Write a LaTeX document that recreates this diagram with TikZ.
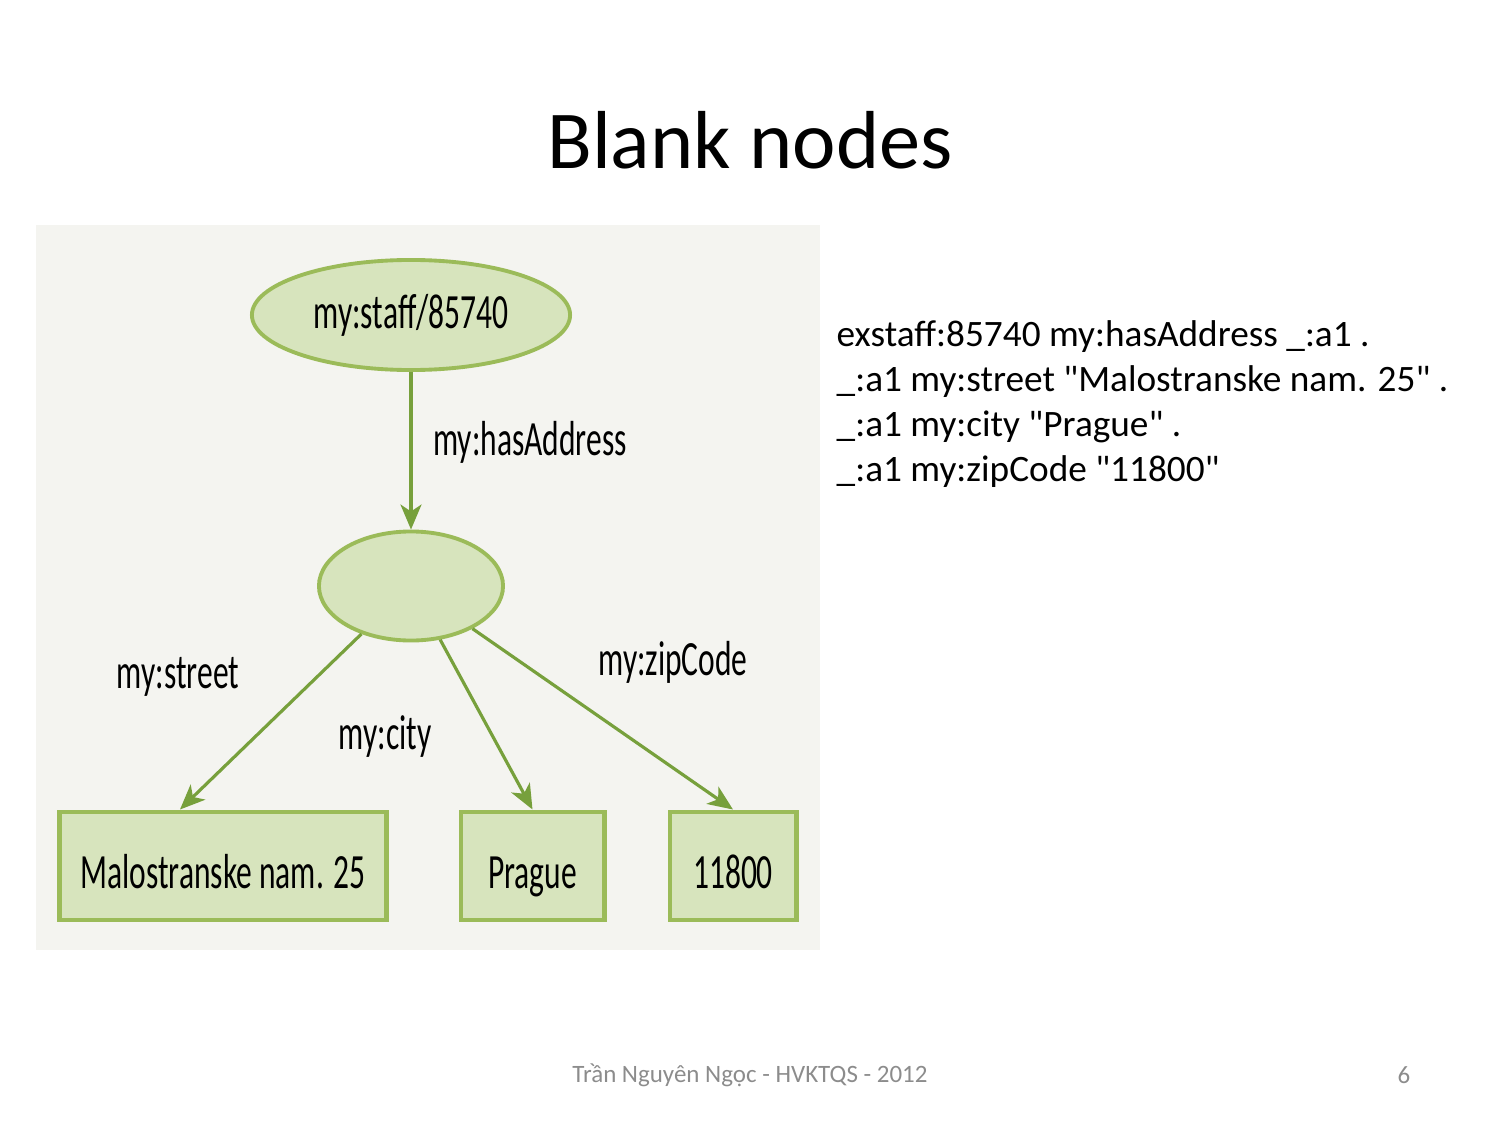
\documentclass[tikz,border=0pt]{standalone}
\usepackage{fontspec}
\setmainfont{Carlito}
\newfontfamily\narrowfont[FakeStretch=0.64]{Carlito}
\usetikzlibrary{shapes.geometric,arrows.meta,positioning}

\definecolor{nodefill}{HTML}{D7E4BD}
\definecolor{nodeline}{HTML}{9BBB59}
\definecolor{edgeline}{HTML}{77A03C}
\definecolor{panelbg}{HTML}{F4F4F0}
\definecolor{footgray}{HTML}{8C8C8C}

\begin{document}
\begin{tikzpicture}[
    x=0.01cm, y=-0.01cm,
    font=\narrowfont\fontsize{14}{16}\selectfont,
    >={Stealth[length=0.25cm,width=0.21cm,inset=0.07cm]},
    % --- node styles ---
    resource/.style = {ellipse, draw=nodeline, fill=nodefill,
                       line width=1.1pt, inner sep=0pt},
    literal/.style  = {rectangle, draw=nodeline, fill=nodefill,
                       line width=1.4pt, minimum height=1.08cm, inner sep=0pt,
                       text height=0.44cm, text depth=0cm},
    arrow/.style    = {->, draw=edgeline, line width=0.9pt},
    triple/.style   = {font=\fontsize{10.6}{12.8}\selectfont, anchor=base west,
                       inner sep=0pt},
    footer/.style   = {font=\fontsize{7.1}{8.5}\selectfont, text=footgray},
]
\useasboundingbox (0,0) rectangle (1499,1124);

%============ TITLE ============
\node (title) [font=\fontsize{23.4}{28}\selectfont] at (750,140) {Blank nodes};

%============ GRAPH PANEL ============
\fill[panelbg] (36,225) rectangle (820,950);

\node (staff) [resource, minimum width=3.18cm, minimum height=1.10cm]
  at (411,315) {\raisebox{-0.04cm}{my:staff/85740}};
\node (blank) [resource, minimum width=1.84cm, minimum height=1.09cm]
  at (411,586) {};

\node (street) [literal, minimum width=3.26cm] at (223,866) {Malostranske nam. 25};
\node (prague) [literal, minimum width=1.43cm] at (532.5,866) {Prague};
\node (zip)    [literal, minimum width=1.26cm] at (733,866) {11800};

\draw[arrow] (staff) -- (blank);
\draw[arrow] (blank) -- ([xshift=-0.43cm]street.north);
\draw[arrow] (blank) -- (prague.north);
\draw[arrow] (blank) -- (zip.north);

% edge labels
\node (lhas)    at (530,442) {my:hasAddress};
\node (lstreet) at (178,677) {my:street};
\node (lcity)   at (385,737) {my:city};
\node (lzip)    at (673,662) {my:zipCode};

%============ TRIPLES ============
\foreach \n/\y/\t in {1/346/{exstaff:85740 my:hasAddress \_:a1 .},
                      2/391/{\_:a1 my:street \textquotedbl Malostranske nam. 25\textquotedbl{} .},
                      3/436/{\_:a1 my:city \textquotedbl Prague\textquotedbl{} .},
                      4/481/{\_:a1 my:zipCode \textquotedbl 11800\textquotedbl}}
  \node (trip\n) [triple] at (836,\y) {\t};

%============ FOOTER ============
\node (foot) [footer] at (750,1075) {Trần Nguyên Ngọc - HVKTQS - 2012};
\node (page) [footer] at (1404,1075) {6};

\end{tikzpicture}
\end{document}
